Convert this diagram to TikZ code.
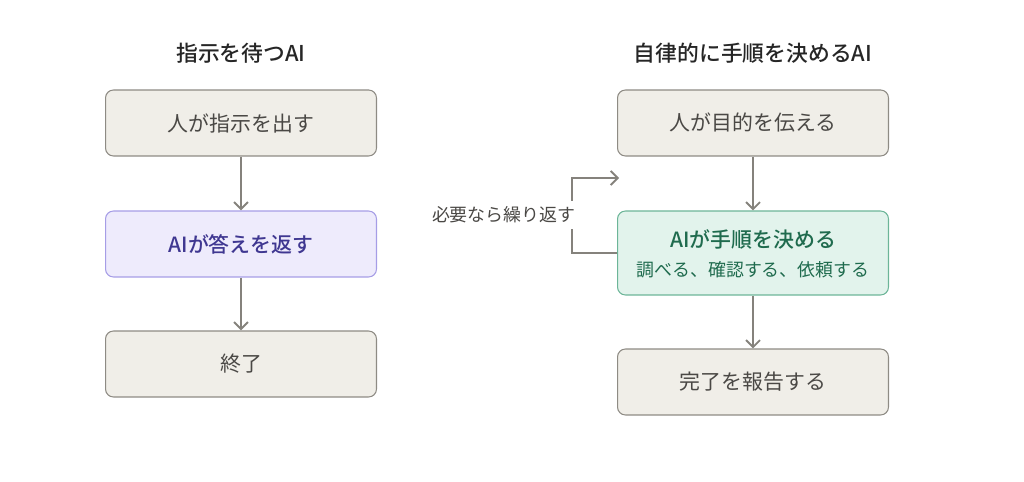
\documentclass[tikz,border=0pt]{standalone}
\usepackage{fontspec}
\setmainfont{Noto Sans CJK JP}[BoldFont={Noto Sans CJK JP Medium}]
\usetikzlibrary{arrows.meta}
\definecolor{grauFill}{HTML}{F0EEE8}
\definecolor{grauRand}{HTML}{8E8B84}
\definecolor{grauText}{HTML}{4A4845}
\definecolor{lilaFill}{HTML}{EEEBFC}
\definecolor{lilaRand}{HTML}{A69DE6}
\definecolor{lilaText}{HTML}{3F3791}
\definecolor{gruenFill}{HTML}{E2F3EC}
\definecolor{gruenRand}{HTML}{6CB598}
\definecolor{gruenText}{HTML}{1F6B4E}
\definecolor{pfeilGrau}{HTML}{85827C}
\begin{document}
\begin{tikzpicture}[x=0.02cm,y=-0.02cm,
  box/.style={draw=grauRand,fill=grauFill,text=grauText,line width=0.6pt,rounded corners=4.5pt,minimum width=5.42cm,minimum height=1.32cm,font=\fontsize{11.9}{14}\selectfont},
  boxlila/.style={box,draw=lilaRand,fill=lilaFill,text=lilaText},
  boxgruen/.style={box,draw=gruenRand,fill=gruenFill,text=gruenText,minimum height=1.68cm},
  titel/.style={font=\bfseries\fontsize{12.4}{14}\selectfont,text=black!85},
  pfeil/.style={draw=pfeilGrau,line width=1.1pt,-{Straight Barb[length=4pt,width=8pt]}}]
\useasboundingbox (0,0) rectangle (1024,482);

% Links
\node[titel] (titellinks) at (241,53) {指示を待つAI};
\node[box] (mensch) at (241,123) {人が指示を出す};
\node[boxlila,font=\bfseries\fontsize{11.9}{14}\selectfont] (antwort) at (241,244) {AIが答えを返す};
\node[box] (ende) at (241,364) {終了};

% Rechts
\node[titel] (titelrechts) at (753,53) {自律的に手順を決めるAI};
\node[box] (ziel) at (753,123) {人が目的を伝える};
\node[boxgruen] (plan) at (753,253) {};
\node[text=gruenText,font=\bfseries\fontsize{11.9}{14}\selectfont] (plantitel) at (753,239) {AIが手順を決める};
\node[text=gruenText,font=\fontsize{10.2}{12}\selectfont] (plansub) at (753,270) {調べる、確認する、依頼する};
\node[box] (bericht) at (753,382) {完了を報告する};

% Pfeile
\draw[pfeil] (mensch) -- (antwort);
\draw[pfeil] (antwort) -- (ende);
\draw[pfeil] (ziel) -- (plan);
\draw[pfeil] (plan) -- (bericht);

% Schleife
\coordinate (ecke) at (572,178);
\coordinate (schleifenende) at (619,178);
\draw[pfeil] (plan.west) -| (ecke) -- (schleifenende);
\node[fill=white,anchor=east,inner sep=3pt,text=grauText,font=\fontsize{10.2}{12}\selectfont] (wiederholen) at (581,215) {必要なら繰り返す};
\end{tikzpicture}
\end{document}
